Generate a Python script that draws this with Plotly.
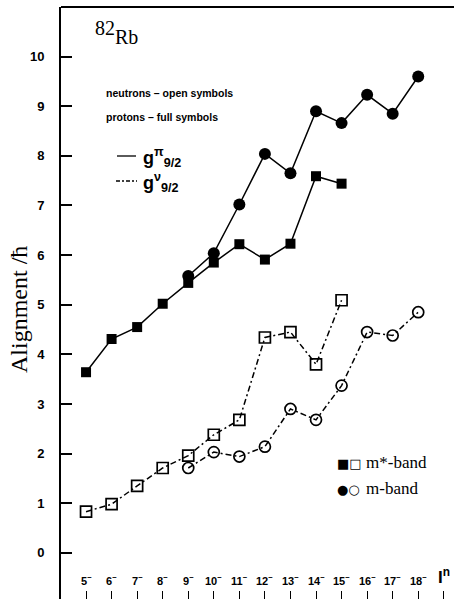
import plotly.graph_objects as go

# ---- data ----
tick_vals = [5, 6, 7, 8, 9, 10, 11, 12, 13, 14, 15, 16, 17, 18, 19]
tick_text = ["5", "6", "7", "8", "9", "10", "11", "12", "13", "14", "15", "16", "17", "18"]

# m*-band (squares), protons full, neutrons open
mstar_x = [5, 6, 7, 8, 9, 10, 11, 12, 13, 14, 15]
mstar_proton = [3.64, 4.31, 4.55, 5.02, 5.44, 5.85, 6.22, 5.91, 6.23, 7.59, 7.44]
mstar_neutron = [0.83, 0.98, 1.35, 1.71, 1.96, 2.38, 2.68, 4.34, 4.45, 3.80, 5.09]

# m-band (circles)
m_x = [9, 10, 11, 12, 13, 14, 15, 16, 17, 18]
m_proton = [5.58, 6.04, 7.02, 8.04, 7.65, 8.90, 8.66, 9.23, 8.85, 9.60]
m_neutron = [1.71, 2.03, 1.94, 2.14, 2.90, 2.68, 3.37, 4.45, 4.38, 4.85]

y_ticks = [0, 1, 2, 3, 4, 5, 6, 7, 8, 9, 10]

# ---- layout geometry ----
W, H = 454, 599
L, T, R, B = 61, 7, 0, 0
PW, PH = W - L - R, H - T - B


def px(x):
    return (x - L) / PW


def py(y):
    return (H - B - y) / PH


DASH = "6px,3px,2px,3px"
fig = go.Figure()

fig.add_trace(go.Scatter(x=mstar_x, y=mstar_proton, mode="lines+markers",
                         line=dict(color="black", width=1.5),
                         marker=dict(symbol="square", size=10, color="black"),
                         showlegend=False))
fig.add_trace(go.Scatter(x=m_x, y=m_proton, mode="lines+markers",
                         line=dict(color="black", width=1.5),
                         marker=dict(symbol="circle", size=12, color="black"),
                         showlegend=False))
fig.add_trace(go.Scatter(x=mstar_x, y=mstar_neutron, mode="lines+markers",
                         line=dict(color="black", width=1.5, dash=DASH),
                         marker=dict(symbol="square-open", size=11, color="black",
                                     line=dict(width=1.7, color="black")),
                         showlegend=False))
fig.add_trace(go.Scatter(x=m_x, y=m_neutron, mode="lines+markers",
                         line=dict(color="black", width=1.5, dash=DASH),
                         marker=dict(symbol="circle-open", size=11, color="black",
                                     line=dict(width=1.7, color="black")),
                         showlegend=False))

ann = []
sans_b = dict(family="Liberation Sans", color="black")
serif = dict(family="Liberation Serif", color="black")


def add(text, x, y, size, font, xanchor="left", xref="paper", angle=0):
    ann.append(dict(text=text, x=x, y=py(y), xref=xref, yref="paper",
                    xanchor=xanchor, yanchor="middle", showarrow=False,
                    textangle=angle, font=dict(size=size, **font)))


add("82", px(93), 28, 20, serif)
add("Rb", px(113), 37, 20, serif)
add("<b>neutrons – open symbols</b>", px(104), 93, 10.5, sans_b)
add("<b>protons – full symbols</b>", px(104), 117, 10.5, sans_b)
add("<b>g<sup>π</sup><sub>9/2</sub></b>", px(141), 157, 18, sans_b)
add("<b>g<sup>ν</sup><sub>9/2</sub></b>", px(141), 182, 18, sans_b)
# legend bottom right
add("■□", px(335), 463, 13, dict(family="DejaVu Sans", color="black"))
add("●○", px(335), 489, 13, dict(family="DejaVu Sans", color="black"))
add("m*-band", px(364), 462, 17, serif)
add("m-band", px(364), 488, 17, serif)
# x tick labels
for v, t in zip(tick_vals, tick_text):
    add("<b>" + t + "<sup>−</sup></b>", v, 580, 11, sans_b, xanchor="center", xref="x")
add("<b>I<sup>n</sup></b>", 19, 576, 17, sans_b, xanchor="center", xref="x")
# y title
add("Alignment /ħ", px(19), 310, 24, serif, xanchor="center", angle=-90)

shapes = [
    dict(type="line", xref="paper", yref="paper", x0=0, x1=1, y0=1, y1=1,
         line=dict(color="black", width=2)),
    dict(type="line", xref="paper", yref="paper", x0=px(117), x1=px(136),
         y0=py(156), y1=py(156), line=dict(color="black", width=1.3)),
    dict(type="line", xref="paper", yref="paper", x0=px(116), x1=px(137),
         y0=py(181), y1=py(181), line=dict(color="black", width=1.3, dash="4px,2px,2px,2px")),
]

fig.update_layout(
    width=W, height=H,
    margin=dict(l=L, r=R, t=T, b=B, pad=0),
    paper_bgcolor="white", plot_bgcolor="white",
    annotations=ann, shapes=shapes,
    xaxis=dict(range=[4.02, 19.4], tickvals=tick_vals,
               ticks="inside", ticklen=8, tickwidth=1, tickcolor="black",
               showgrid=False, zeroline=False, showline=False, showticklabels=False),
    yaxis=dict(range=[-0.93, 11.0], tickvals=y_ticks,
               ticktext=["<b>%d</b>" % v for v in y_ticks],
               ticks="inside", ticklen=11, tickwidth=2, tickcolor="black",
               ticklabelstandoff=12,
               showgrid=False, zeroline=False, showline=True, linecolor="black", linewidth=2,
               tickfont=dict(size=13, family="Liberation Sans", color="black")),
)

fig.write_html("out.html")
